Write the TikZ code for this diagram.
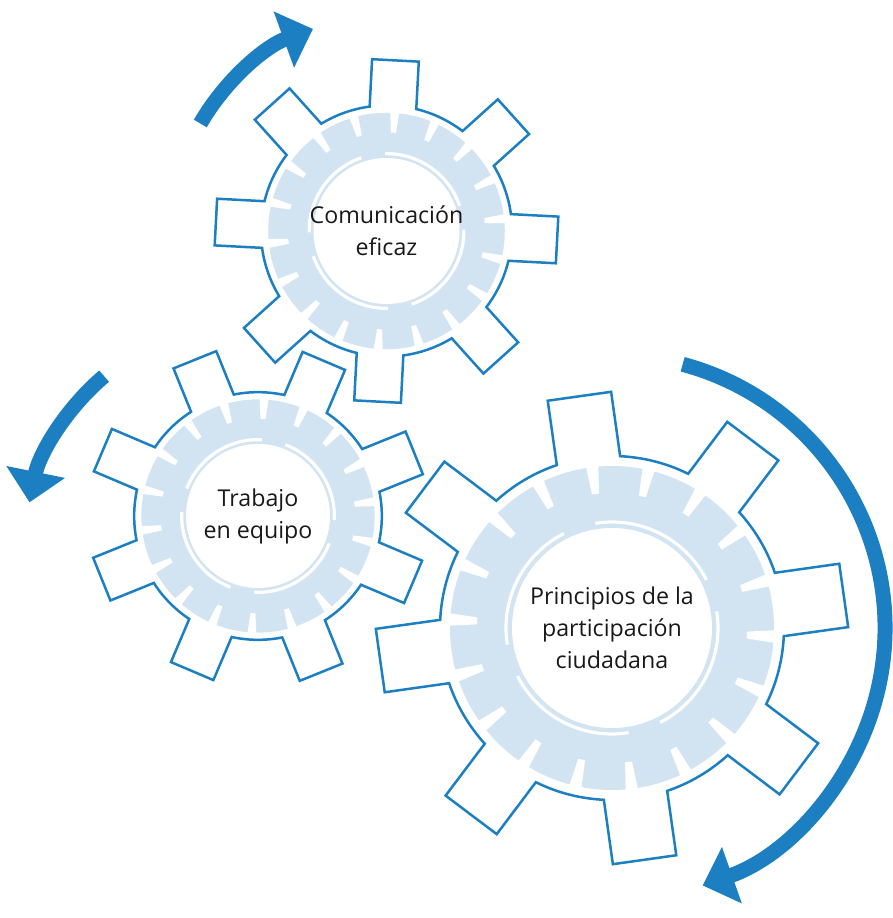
\documentclass[tikz,border=0pt]{standalone}
\usepackage{fontspec}
\setmainfont{Open Sans}
\usepackage{tikz}
\usetikzlibrary{arrows.meta}
\definecolor{gearblue}{RGB}{27,127,194}
\definecolor{bandblue}{RGB}{210,228,242}
\tikzstyle{gearline} = [draw=gearblue, line width=1.25pt, fill=white, line join=miter]
\tikzstyle{gaparc} = [white, line width=1.6pt]

% #1 centre, #2 scale, #3 teeth angle, #4 notch angle, #5 gap angle
\newcommand{\gearwheel}[5]{%
  \begin{scope}[shift={(#1)}, scale=#2]
    \draw[gearline] ({-45+#3+10.72}:172)
      \foreach \a in {0,45,...,315}{
        arc[start angle=\a-45+#3+10.72, end angle=\a+#3-10.72, radius=172]
        -- ({\a+#3-7.79}:236.2) -- ({\a+#3+7.79}:236.2) -- ({\a+#3+10.72}:172)
      } -- cycle;
    \fill[bandblue] (0,0) circle[radius=162];
    \foreach \n in {0,20,...,340}
      \fill[white, rotate=\n+#4] (135,-3.5) -- (166,-6.5) -- (166,6.5) -- (135,3.5) -- cycle;
    \foreach \g in {0,90,180,270}
      \draw[gaparc] ({#5-\g-81}:106) arc[start angle=#5-\g-81, end angle=#5-\g-9, radius=106];
    \fill[white] (0,0) circle[radius=100];
  \end{scope}}

\begin{document}
\begin{tikzpicture}[x=0.5pt, y=0.5pt,
  geartext/.style={align=center, text=black!90, font=\fontsize{11.6pt}{16pt}\selectfont},
  rotarrow/.style={gearblue, line width=7.5pt, -{Triangle[width=29pt, length=15.5pt]}}]
\useasboundingbox (0,0) rectangle (893,918);

% GEARS
\coordinate (comunicacion) at (386.5,687);
\coordinate (trabajo) at (258,402);
\coordinate (principios) at (612,290);

\gearwheel{comunicacion}{0.73}{42}{6}{100}
\gearwheel{trabajo}{0.72}{22}{7}{78}
\gearwheel{principios}{1}{8}{17}{108}

\node[geartext] (comtext) at (comunicacion) {Comunicación\\eficaz};
\node[geartext] (trabtext) at (trabajo) {Trabajo\\en equipo};
\node[geartext] (printext) at (principios) {Principios de la\\participación\\ciudadana};

% ARROWS
\coordinate (trabajoarc) at ([shift={(-9,-31)}]trabajo);
\draw[rotarrow] ([shift={(150:215)}]comunicacion) arc[start angle=150, end angle=110, radius=215];
\draw[rotarrow] ([shift={(130.3:224)}]trabajoarc) arc[start angle=130.3, end angle=168.5, radius=224];
\draw[rotarrow] ([shift={(75:273)}]principios) arc[start angle=75, end angle=-70.6, radius=273];

\end{tikzpicture}
\end{document}
